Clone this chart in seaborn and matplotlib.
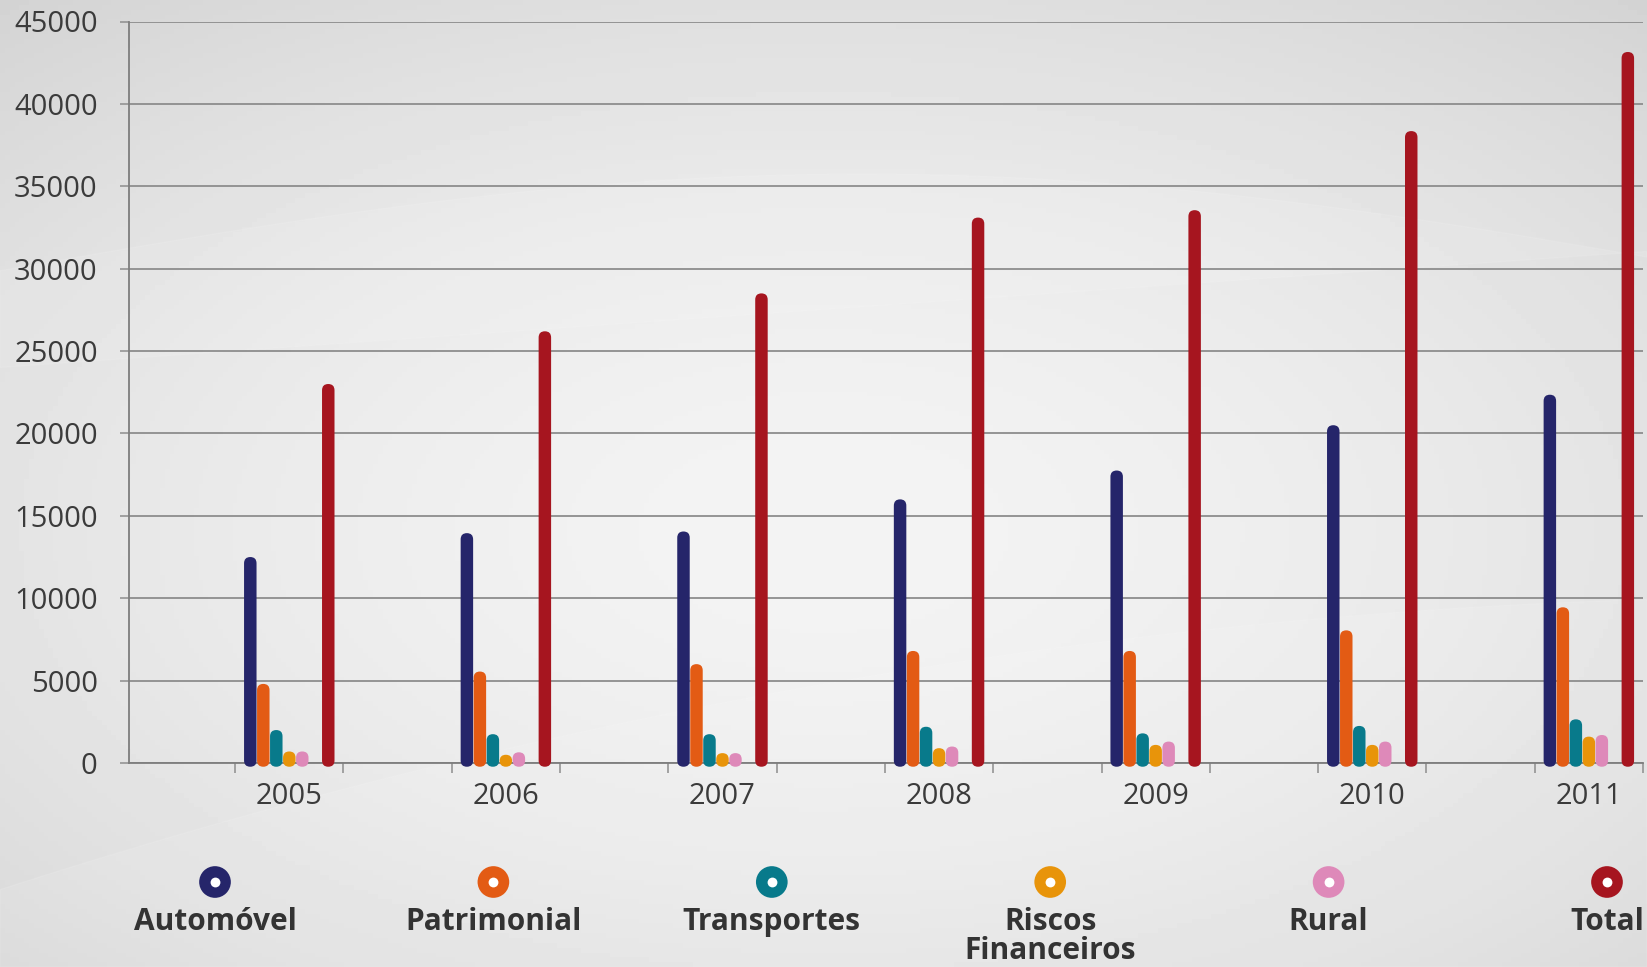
import matplotlib
matplotlib.use('Agg')
import matplotlib.pyplot as plt
from matplotlib.patches import FancyBboxPatch
import seaborn as sns
import numpy as np
import pandas as pd

# data
years = [2005, 2006, 2007, 2008, 2009, 2010, 2011]
automovel = [12500, 13950, 14050, 16000, 17750, 20500, 22350]
patrimonial = [4800, 5550, 6000, 6800, 6800, 8050, 9450]
transportes = [2000, 1750, 1750, 2200, 1800, 2250, 2650]
riscos_financeiros = [700, 500, 600, 900, 1100, 1100, 1600]
rural = [700, 650, 600, 1000, 1300, 1300, 1700]
total = [23000, 26200, 28500, 33100, 33550, 38350, 43150]

series = ['Automóvel', 'Patrimonial', 'Transportes', 'Riscos Financeiros', 'Rural', 'Total']
legend_labels = ['Automóvel', 'Patrimonial', 'Transportes', 'Riscos\nFinanceiros', 'Rural', 'Total']
colors = ['#25256a', '#e35b14', '#087a8b', '#e8940a', '#de89b9', '#a6151f']
y_ticks = [0, 5000, 10000, 15000, 20000, 25000, 30000, 35000, 40000, 45000]

values = [automovel, patrimonial, transportes, riscos_financeiros, rural, total]
df = pd.DataFrame({
    'year': years * len(series),
    'serie': [s for s in series for _ in years],
    'value': [v for vals in values for v in vals],
})

# an empty hue level leaves the gap before the Total bar
hue_order = series[:5] + [' '] + series[5:]
palette = dict(zip(series, colors))
palette[' '] = '#ffffff'

sns.set_theme(style='white')
plt.rcParams['font.family'] = ['Open Sans', 'DejaVu Sans']

W, H = 1647, 967
fig = plt.figure(figsize=(W / 100, H / 100), dpi=100)

# background: soft grey gradient with light swooshes
bg = fig.add_axes([0, 0, 1, 1], zorder=-10)
yy, xx = np.mgrid[0:1:200j, 0:1:340j]
r = np.sqrt(((xx - 0.5) / 0.75) ** 2 + ((yy - 0.45) / 0.7) ** 2)
shade = 0.955 - 0.12 * np.clip(r, 0, 1.2) ** 1.6
bg.imshow(shade, cmap='gray', vmin=0, vmax=1, extent=[0, 1, 0, 1], aspect='auto', origin='lower')
t = np.linspace(0, 1, 200)
bg.fill_between(t, 0.08 + 0.55 * t - 0.25 * t ** 2, 0.0, color='white', alpha=0.10)
bg.fill_between(t, 0.62 + 0.12 * t, 0.72 + 0.1 * np.sin(t * 3), color='white', alpha=0.10)
bg.set_xlim(0, 1)
bg.set_ylim(0, 1)
bg.axis('off')

left, right = 129 / W, 1643 / W
bottom, top = 1 - 763 / H, 1 - 21.5 / H
ax = fig.add_axes([left, bottom, right - left, top - bottom])
ax.patch.set_alpha(0)

sns.barplot(data=df, x='year', y='value', hue='serie', hue_order=hue_order,
            palette=palette, native_scale=True, width=0.42, gap=0.04,
            saturation=1, legend=False, ax=ax, zorder=3)

xmin, xmax = 2004.26, 2011.25
ymin, ymax = 0, 45000
ax.set_xlim(xmin, xmax)
ax.set_ylim(ymin, ymax)

# swap the square bars for rounded ones
ax_w = (right - left) * W
ax_h = (top - bottom) * H
aspect = (ax_w / (xmax - xmin)) / (ax_h / (ymax - ymin))
rects = list(ax.patches)
for p in rects:
    h = p.get_height()
    if not np.isfinite(h) or h <= 0:
        p.remove()
        continue
    x0, w = p.get_x(), p.get_width()
    rr = w / 2
    fb = FancyBboxPatch((x0, -rr * aspect * 0.6), w, h + rr * aspect * 0.6,
                        boxstyle=f'round,pad=0,rounding_size={rr}',
                        mutation_aspect=aspect, facecolor=p.get_facecolor(),
                        edgecolor='none', zorder=3, clip_on=False)
    ax.add_patch(fb)
    p.remove()

ax.set_yticks(y_ticks)
ax.set_yticklabels([str(v) for v in y_ticks])
ax.set_xticks(years)
ax.set_xticklabels([str(y) for y in years])
ax.set_xticks([y + d for y in years for d in (-0.25, 0.25)], minor=True)
ax.grid(axis='y', color='#8d8d8d', linewidth=1.3, zorder=0)
ax.grid(axis='x', visible=False)
ax.set_axisbelow(True)
for s in ['top', 'right']:
    ax.spines[s].set_visible(False)
for s in ['left', 'bottom']:
    ax.spines[s].set_color('#7d7d7d')
    ax.spines[s].set_linewidth(1.3)
ax.tick_params(axis='y', length=6.5, width=1.1, color='#8d8d8d', pad=16,
               labelsize=21, labelcolor='#3b3b3b', left=True)
ax.tick_params(axis='x', which='major', length=0, pad=14, labelsize=21, labelcolor='#3b3b3b')
ax.tick_params(axis='x', which='minor', length=7, width=1.1, color='#8d8d8d', bottom=True)
ax.set_xlabel('')
ax.set_ylabel('')

# legend: ring markers above bold labels
lg = fig.add_axes([0, 0, 1, 1], zorder=5)
lg.set_xlim(0, W)
lg.set_ylim(H, 0)
lg.axis('off')
lx = np.linspace(215, 1607, len(series))
leg_df = pd.DataFrame({'x': lx, 'y': [882] * len(series), 'serie': series})
sns.scatterplot(data=leg_df, x='x', y='y', hue='serie', palette=palette, s=520,
                linewidth=0, legend=False, ax=lg)
lg.scatter(lx, [882] * len(series), s=50, color='white', linewidth=0, zorder=6)
for x, lab in zip(lx, legend_labels):
    lg.text(x, 907, lab, ha='center', va='top', fontsize=21.5, fontweight='bold',
            color='#333333', linespacing=0.95)
lg.set_xlim(0, W)
lg.set_ylim(H, 0)

fig.savefig('out.png', dpi=100)
